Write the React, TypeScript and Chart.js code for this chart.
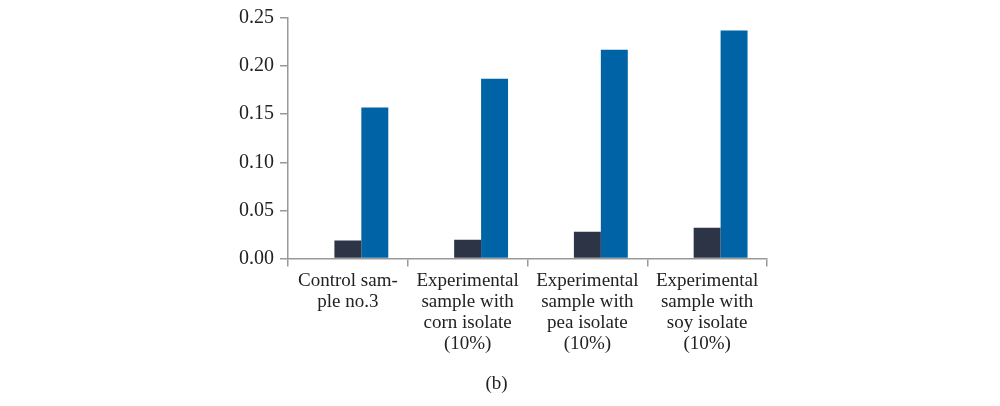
import React, { useEffect, useRef } from "react";
import { Chart, registerables } from "chart.js";

Chart.register(...registerables);

const categories: string[][] = [
  ["Control sam-", "ple no.3"],
  ["Experimental", "sample with", "corn isolate", "(10%)"],
  ["Experimental", "sample with", "pea isolate", "(10%)"],
  ["Experimental", "sample with", "soy isolate", "(10%)"],
];
const seriesEmpty = [0, 0, 0, 0];
const seriesDark = [0.0187, 0.0197, 0.028, 0.032];
const seriesBlue = [0.157, 0.187, 0.217, 0.237];
const yTicks = [0, 0.05, 0.1, 0.15, 0.2, 0.25];

const FONT = "'Liberation Serif', 'Times New Roman', serif";

export default function App() {
  const ref = useRef<HTMLCanvasElement | null>(null);
  useEffect(() => {
    if (!ref.current) return;
    const chart = new Chart(ref.current, {
      type: "bar",
      data: {
        labels: categories,
        datasets: [
          { label: "a", data: seriesEmpty, backgroundColor: "rgba(0,0,0,0)" },
          { label: "b", data: seriesDark, backgroundColor: "#2c3446" },
          { label: "c", data: seriesBlue, backgroundColor: "#0063a6" },
        ],
      },
      options: {
        animation: false,
        responsive: true,
        maintainAspectRatio: false,
        layout: { padding: { left: 226, right: 233, top: 10, bottom: 11 } },
        datasets: { bar: { categoryPercentage: 0.675, barPercentage: 1 } },
        plugins: {
          legend: { display: false },
          tooltip: { enabled: false },
          title: {
            display: true,
            text: "(b)",
            position: "bottom",
            color: "#222",
            font: { family: FONT, size: 19, weight: "normal", lineHeight: 1.2 },
            padding: { top: 14, bottom: 0 },
          },
        },
        scales: {
          x: {
            offset: true,
            border: { color: "#999", width: 1.5 },
            grid: {
              offset: true,
              drawOnChartArea: false,
              drawTicks: true,
              tickLength: 8,
              color: "#999",
              lineWidth: 1.5,
            },
            ticks: {
              color: "#222",
              font: { family: FONT, size: 19, lineHeight: 1.1 },
              maxRotation: 0,
              autoSkip: false,
              padding: 4,
            },
          },
          y: {
            min: 0,
            max: 0.25,
            afterFit: (s: any) => {
              s.width = 62;
            },
            afterBuildTicks: (s: any) => {
              s.ticks = yTicks.map((v) => ({ value: v }));
            },
            border: { color: "#999", width: 1.5 },
            grid: {
              drawOnChartArea: false,
              drawTicks: true,
              tickLength: 8,
              color: "#999",
              lineWidth: 1.5,
            },
            ticks: {
              color: "#222",
              font: { family: FONT, size: 20 },
              padding: 6,
              callback: (v: any) => Number(v).toFixed(2),
            },
          },
        },
      },
    });
    return () => chart.destroy();
  }, []);
  return (
    <div style={{ position: "absolute", left: 0, top: 0, width: 1000, height: 406, background: "#fff" }}>
      <canvas ref={ref} />
    </div>
  );
}
